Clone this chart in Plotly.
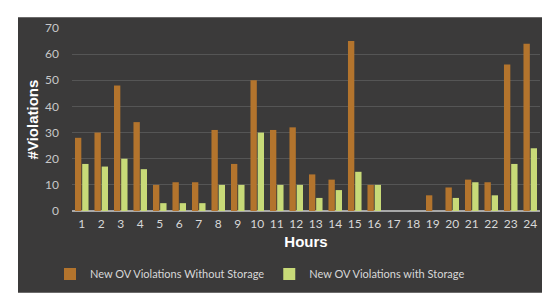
import plotly.graph_objects as go

hours = [str(h) for h in range(1, 25)]
without_storage = [28, 30, 48, 34, 10, 11, 11, 31, 18, 50, 31, 32, 14, 12, 65, 10, 0, 0, 6, 9, 12, 11, 56, 64]
with_storage = [18, 17, 20, 16, 3, 3, 3, 10, 10, 30, 10, 10, 5, 8, 15, 10, 0, 0, 0, 5, 11, 6, 18, 24]
y_ticks = [0, 10, 20, 30, 40, 50, 60, 70]

BG = "#3b3a3a"
fig = go.Figure()
fig.add_trace(go.Bar(x=hours, y=without_storage, name="New OV Violations Without Storage",
                     marker=dict(color="#b3742d", line=dict(width=0))))
fig.add_trace(go.Bar(x=hours, y=with_storage, name="New OV Violations with Storage",
                     marker=dict(color="#c8da78", line=dict(width=0))))

L, R, T, B = 64, 18, 17, 93
W, H = 550, 296
pw, ph = W - L - R, H - T - B

def px(x):
    return (x - L) / pw

def py(y):
    return (H - B - y) / ph

fig.add_shape(type="rect", xref="paper", yref="paper",
              x0=px(10), x1=px(540), y0=py(286), y1=py(6),
              fillcolor=BG, line=dict(width=0), layer="below")

fig.update_layout(
    width=W, height=H,
    margin=dict(l=L, r=R, t=T, b=B),
    paper_bgcolor="white",
    plot_bgcolor=BG,
    barmode="group",
    bargap=0.26,
    bargroupgap=0.12,
    font=dict(family="Lato", color="#d0d0d0", size=12),
    showlegend=True,
    legend=dict(orientation="h", x=px(42), xanchor="left", y=py(267), yanchor="middle",
                bgcolor="rgba(0,0,0,0)", font=dict(size=11, color="#d8d8d8"),
                itemwidth=30, tracegroupgap=0),
    xaxis=dict(showgrid=False, zeroline=False, showline=False,
               tickfont=dict(size=12, color="#d8d8d8"),
               ticks="", ticklabelstandoff=4,
               title=dict(text="<b>Hours</b>", font=dict(family="Liberation Sans", size=15, color="white"),
                          standoff=6)),
    yaxis=dict(range=[0, 70], tickvals=y_ticks, showgrid=True, gridcolor="#555555", gridwidth=1,
               zeroline=True, zerolinecolor="#a8a8a8", zerolinewidth=2,
               showline=False, ticks="", ticklabelstandoff=12,
               tickfont=dict(size=12, color="#c8c8c8"),
               title=dict(text="<b>#Violations</b>", font=dict(family="Liberation Sans", size=15, color="white"),
                          standoff=2)),
)

fig.write_html("out.html")
